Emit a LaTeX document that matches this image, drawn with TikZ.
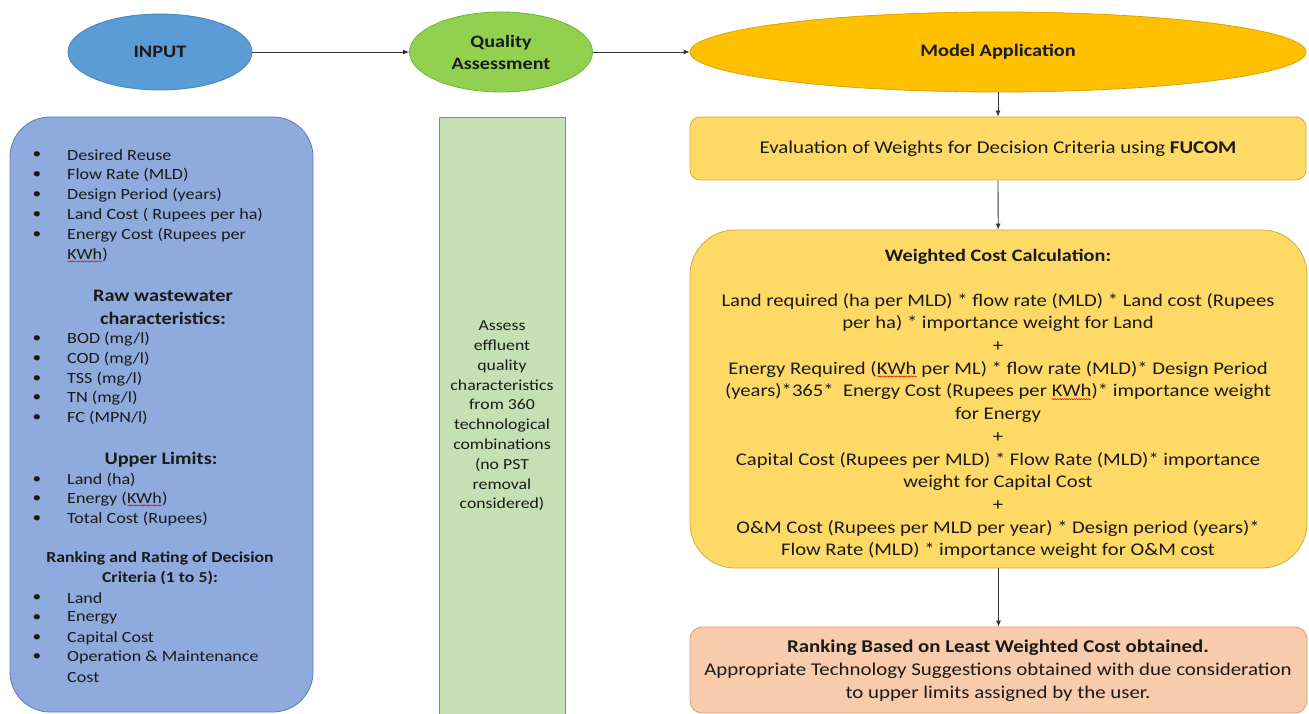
\documentclass[tikz,border=0pt]{standalone}
\usepackage{fontspec}
\setmainfont{Carlito}[FakeStretch=1.16]
\usetikzlibrary{shapes.geometric,arrows.meta,decorations.pathmorphing}

\definecolor{inpfill}{HTML}{5B9BD5}
\definecolor{inpline}{HTML}{4A82B8}
\definecolor{qafill}{HTML}{92D050}
\definecolor{qaline}{HTML}{6DB33F}
\definecolor{mafill}{HTML}{FFC000}
\definecolor{maline}{HTML}{D9A300}
\definecolor{lbfill}{HTML}{8FAADC}
\definecolor{lbline}{HTML}{5A7BBF}
\definecolor{gbfill}{HTML}{C5E0B4}
\definecolor{gbline}{HTML}{70A050}
\definecolor{ybfill}{HTML}{FFD966}
\definecolor{ybline}{HTML}{D4AC3A}
\definecolor{rbfill}{HTML}{F8CBAD}
\definecolor{rbline}{HTML}{D9A066}
\definecolor{txt}{HTML}{1A1A1A}

% word flagged by a wavy red underline
\newcommand\spellmark[1]{\tikz[baseline=(sw.base)]{%
  \node[inner sep=0pt,outer sep=0pt,anchor=base,draw=none,fill=none] (sw) {#1};
  \draw[red!85!black,line width=0.45pt,decorate,
        decoration={snake,amplitude=0.6pt,segment length=2.4pt}]
        ([yshift=-2.2pt]sw.base west) -- ([yshift=-2.2pt]sw.base east);}}

\tikzset{
  oval/.style={ellipse,inner sep=0pt,line width=0.8pt,text=txt,
    font=\fontsize{17.5}{22}\selectfont\bfseries},
  panel/.style={rectangle,inner sep=0pt,line width=0.8pt},
  flow/.style={-{Latex[length=6pt,width=5pt]},line width=0.8pt,black!80},
  itemtxt/.style={anchor=west,inner sep=0pt,text=txt,font=\fontsize{15.6}{19}\selectfont},
  bulletmark/.style={inner sep=0pt,text=txt,font=\fontsize{15}{19}\selectfont},
  headtxt/.style={inner sep=0pt,text=txt,font=\fontsize{17.5}{22}\selectfont\bfseries},
  subhead/.style={inner sep=0pt,text=txt,align=center,font=\fontsize{15.3}{20}\selectfont\bfseries},
  bodytxt/.style={inner sep=0pt,text=txt,align=center},
}

\begin{document}
\begin{tikzpicture}[x=1pt,y=-1pt]
\useasboundingbox (0,0) rectangle (1309,714);

% top row of ovals
\node[oval,fill=inpfill,draw=inpline,minimum width=184,minimum height=76] (inp) at (160,52) {INPUT};
\node[oval,fill=qafill,draw=qaline,minimum width=183,minimum height=80,align=center,
      font=\fontsize{17.4}{22}\selectfont\bfseries] (qa) at (501,52) {Quality\\Assessment};
\node[oval,fill=mafill,draw=maline,minimum width=616,minimum height=80] (ma) at (998,52) {Model Application};

\draw[flow] (inp) -- (qa);
\draw[flow] (qa) -- (ma);

% input panel
\node[panel,fill=lbfill,draw=lbline,rounded corners=40,minimum width=303,minimum height=595] (inbox) at (161.5,414.5) {};

\foreach \t/\y [count=\i] in {{Desired Reuse}/155, {Flow Rate (MLD)}/175, {Design Period (years)}/195,
    {Land Cost ( Rupees per ha)}/215, {Energy Cost (Rupees per}/235,
    {BOD (mg/l)}/339, {COD (mg/l)}/359, {TSS (mg/l)}/379, {TN (mg/l)}/398, {FC (MPN/l)}/418,
    {Land (ha)}/480, {Total Cost (Rupees)}/519,
    {Land}/598, {Energy}/618, {Capital Cost}/638, {Operation \& Maintenance}/657} {
  \node[itemtxt] (it\i) at (67,\y) {\t};
  \node[bulletmark] (bu\i) at (37,\y) {\textbullet};
}
\node[itemtxt] (kwh1) at (67,255) {\spellmark{KWh})};
\node[itemtxt] (eng2) at (67,499) {Energy (\spellmark{KWh})};
\node[bulletmark] (bue2) at (37,499) {\textbullet};
\node[itemtxt] (cost2) at (67,677) {Cost};

\node[headtxt] (raw1) at (163,296) {Raw wastewater};
\node[headtxt] (raw2) at (163,318) {characteristics:};
\node[headtxt] (upl) at (161,460) {Upper Limits:};
\node[subhead] (rank1) at (160,558) {Ranking and Rating of Decision};
\node[subhead] (rank2) at (160,578) {Criteria (1 to 5):};

% quality assessment column
\node[panel,fill=gbfill,draw=gbline,minimum width=126,minimum height=604] (qbox) at (502,419) {};
\node[bodytxt,font=\fontsize{15.3}{19.8}\selectfont] (qtxt) at (502,416)
  {Assess\\effluent\\quality\\characteristics\\from 360\\technological\\combinations\\(no PST\\removal\\considered)};

% model application steps
\node[panel,fill=ybfill,draw=ybline,rounded corners=10,minimum width=616,minimum height=63] (fucom) at (998,148.5)
  {\fontsize{18}{22}\selectfont\color{txt}Evaluation of Weights for Decision Criteria using \textbf{FUCOM}};

\node[panel,fill=ybfill,draw=ybline,rounded corners=45,minimum width=617,minimum height=338] (wcc) at (998.5,399) {};
\node[headtxt] (wtitle) at (998,257) {Weighted Cost Calculation:};
\node[bodytxt,font=\fontsize{17.8}{22.7}\selectfont] (wbody) at (998,426)
  {Land required (ha per MLD) * flow rate (MLD) * Land cost (Rupees\\
   per ha) * importance weight for Land\\
   +\\
   Energy Required (\spellmark{KWh} per ML) * flow rate (MLD)* Design Period\\
   (years)*365*\ \ Energy Cost (Rupees per \spellmark{KWh})* importance weight\\
   for Energy\\
   +\\
   Capital Cost (Rupees per MLD) * Flow Rate (MLD)* importance\\
   weight for Capital Cost\\
   +\\
   O\&M Cost (Rupees per MLD per year) * Design period (years)*\\
   Flow Rate (MLD) * importance weight for O\&M cost};

\node[panel,fill=rbfill,draw=rbline,rounded corners=12,minimum width=617,minimum height=86] (rank) at (998.5,670) {};
\node[bodytxt,font=\fontsize{18}{23}\selectfont] (rtxt) at (998,671)
  {\textbf{Ranking Based on Least Weighted Cost obtained.}\\
   Appropriate Technology Suggestions obtained with due consideration\\
   to upper limits assigned by the user.};

\draw[flow] (ma) -- (fucom);
\draw[flow] (fucom) -- (wcc);
\draw[flow] (wcc) -- (rank);
\end{tikzpicture}
\end{document}
